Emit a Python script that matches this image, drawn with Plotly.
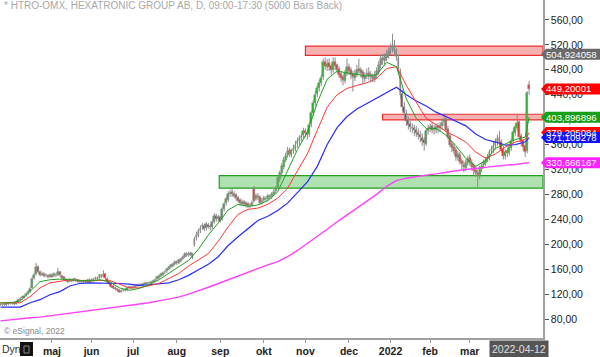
import pandas as pd
import plotly.graph_objects as go

# ---------------- data ----------------
holidays = ["2021-04-02", "2021-04-05", "2021-05-13", "2021-06-25",
            "2021-12-24", "2021-12-31", "2022-01-06"]
month_labels = ["maj", "jun", "jul", "aug", "sep", "okt", "nov", "dec", "2022", "feb", "mar"]
month_starts = ["2021-05", "2021-06", "2021-07", "2021-08", "2021-09", "2021-10",
                "2021-11", "2021-12", "2022-01", "2022-02", "2022-03"]
y_ticks = [80, 120, 160, 200, 240, 280, 320, 360, 400, 440, 480, 520, 560]

opens = [103,104,103,102,105,105,106,105,104,107,
         110,113,114,118,121,124,130,146,152,163,
         156,151,152,150,149,148,150,149,151,151,
         155,149,147,143,142,141,142,142,143,142,
         141,140,139,140,142,140,143,142,145,146,
         146,150,148,152,145,139,136,133,129,128,
         126,124,126,126,127,130,131,131,132,133,
         134,135,135,136,137,137,138,139,141,144,
         146,149,151,155,157,160,164,165,169,171,
         170,173,177,180,185,182,186,184,198,210,
         214,221,227,230,226,231,229,227,236,245,
         241,244,240,257,266,271,280,284,281,279,
         275,271,265,267,266,264,261,263,288,273,
         277,276,267,271,273,272,276,277,281,285,
         292,305,315,324,336,343,351,344,350,353,
         361,365,371,375,381,379,377,394,411,427,
         441,451,459,468,493,485,491,486,479,493,
         487,481,473,468,462,474,485,479,473,467,
         473,481,479,476,466,471,475,471,469,465,
         471,477,487,499,494,499,504,509,514,519,
         511,499,477,441,421,409,399,393,387,387,
         384,379,376,371,367,361,381,386,389,383,
         384,389,387,389,396,401,385,373,361,356,
         351,339,344,333,327,323,331,338,331,325,
         319,315,309,321,327,331,337,339,349,351,
         357,364,371,364,353,341,349,347,355,365,
         379,387,396,373,365,357,349,456]
highs = [106,105,105,106,107,108,107,106,108,112,
         114,117,118,122,126,131,148,154,170,166,
         158,156,155,153,152,153,153,155,154,162,
         157,151,149,146,145,146,145,146,146,144,
         143,142,143,143,144,145,145,146,148,148,
         152,152,158,154,147,141,138,134,132,130,
         128,127,128,129,131,133,133,134,135,136,
         137,137,138,139,139,140,141,143,145,149,
         151,154,156,158,162,165,168,170,174,174,
         176,178,182,187,187,188,188,186,212,220,
         225,230,234,233,236,234,232,238,250,249,
         247,246,259,268,276,285,288,289,285,282,
         278,274,272,271,269,268,266,270,293,281,
         282,278,274,278,277,281,280,284,288,294,
         310,318,330,340,347,356,355,353,360,366,
         371,375,378,387,386,384,396,414,431,446,
         455,464,472,498,500,497,498,490,500,500,
         490,486,478,472,480,498,490,484,478,480,
         488,498,484,480,476,482,484,478,474,478,
         484,494,504,506,506,512,516,522,538,528,
         515,504,482,448,428,416,405,398,394,392,
         390,386,382,378,372,386,392,394,396,392,
         394,394,396,402,410,406,390,378,366,362,
         356,350,348,338,334,336,342,344,336,330,
         326,320,326,330,336,340,345,352,358,364,
         370,376,382,368,358,352,354,360,370,386,
         394,408,398,378,368,362,446,462]
lows = [101,101,101,101,102,103,103,102,103,106,
        108,111,113,116,119,122,129,143,150,154,
        148,149,147,147,145,146,146,147,147,149,
        148,144,142,140,138,139,139,140,140,138,
        138,137,137,138,138,138,140,140,143,143,
        144,146,147,144,138,134,130,128,126,124,
        122,122,124,124,125,128,128,129,130,131,
        132,132,133,134,134,135,136,137,139,142,
        144,147,149,152,154,158,161,163,166,167,
        168,171,175,178,180,180,181,176,196,206,
        211,218,223,221,222,225,222,224,233,236,
        236,235,238,253,262,268,276,276,274,270,
        267,262,262,261,259,258,258,260,266,270,
        271,263,264,268,268,269,272,273,278,282,
        288,300,311,320,332,339,340,339,345,349,
        355,359,365,370,372,368,372,388,406,422,
        436,445,454,464,480,478,478,472,475,480,
        474,468,460,455,458,470,472,465,445,462,
        468,472,468,458,460,465,464,460,460,460,
        466,472,482,488,488,494,498,504,508,502,
        495,472,434,414,402,390,384,380,378,374,
        372,368,364,358,350,358,376,380,378,376,
        378,378,380,384,390,380,368,356,348,344,
        334,334,328,320,316,318,326,326,318,310,
        308,292,304,316,322,326,332,334,344,346,
        352,358,358,348,336,336,340,342,350,362,
        374,382,368,358,350,340,346,440]
closes = [104,102,103,105,104,106,105,104,107,110,
          112,115,117,120,124,128,145,150,164,156,
          150,153,149,150,147,150,148,152,150,156,
          150,146,144,142,140,143,141,144,142,140,
          140,139,141,141,140,143,142,144,146,145,
          150,148,153,146,140,136,132,130,128,126,
          124,125,126,127,129,131,130,132,133,134,
          135,134,136,137,136,138,139,141,143,147,
          149,152,154,156,160,163,166,168,171,170,
          174,176,180,184,182,185,183,178,208,215,
          222,226,231,225,232,228,227,235,246,240,
          243,238,256,265,272,281,283,280,278,274,
          270,266,268,265,263,262,262,266,270,278,
          276,266,270,274,272,277,276,280,284,290,
          306,314,325,335,342,350,345,349,354,360,
          366,370,374,382,378,376,392,410,426,440,
          450,458,467,492,486,490,484,480,492,486,
          480,472,467,463,475,484,478,472,468,474,
          480,478,475,467,470,474,470,468,466,472,
          478,488,498,495,500,505,510,515,518,510,
          500,478,440,420,410,398,392,388,386,383,
          378,375,372,366,362,382,385,388,384,385,
          388,386,390,395,400,384,372,360,355,350,
          340,345,332,328,324,330,337,330,324,318,
          314,310,322,326,332,336,340,348,352,358,
          365,370,363,352,342,348,346,356,366,380,
          388,395,372,364,356,348,442,449]

ma_idx = list(range(0, 266, 5)) + [267]
ma_green = [106,106,109,125,140,143,144,143,142,141,
            143,140,130,126,129,135,143,153,164,174,
            192,215,234,255,264,261,263,270,284,318,
            352,380,427,465,478,475,473,470,472,492,
            485,433,402,386,386,375,358,338,325,334,
            354,361,368,372,404]
ma_red = [106,106,106,116,130,138,140,143,142,141,
          142,142,136,130,130,133,137,145,153,165,
          175,185,205,228,248,256,258,264,274,290,
          318,345,383,420,440,450,455,459,466,482,
          485,455,428,402,392,381,373,364,348,338,
          345,356,364,368,379]
ma_blue = [99,99,99,106,111,119,124,133,137,138,
           138,138,137,136,134,135,136,138,143,150,
           159,168,180,198,212,225,238,245,254,266,
           283,300,325,360,387,405,417,426,435,444,
           452,440,430,422,412,405,398,390,377,368,
           364,359,360,364,371]
ma_magenta = [77,79,80,82,83,85,87,89,91,93,
              95,97,99,102,104,106,109,112,115,120,
              125,131,137,143,149,156,162,167,172,180,
              190,201,213,224,236,247,258,268,280,293,
              302,306,309,311,313,316,318,320,322,324,
              325,327,328,330,331]

zones = [  # (start bar, low, high, fill, line)
    (154, 503, 518, "rgba(247,150,150,0.75)", "#e83030"),
    (193, 399.5, 408.6, "rgba(247,150,150,0.75)", "#e83030"),
    (110.5, 290, 310, "rgba(150,215,150,0.75)", "#20a020"),
]
right_labels = [  # (value, text, colour)
    (504.924058, "504,924058", "#6a6a6a"),
    (449.20001, "449,20001", "#ff0000"),
    (403.896896, "403,896896", "#15a015"),
    (379.205084, "379,205084", "#ff0000"),
    (371.109278, "371,109278", "#1010ff"),
    (330.666167, "330,666167", "#ff20ff"),
]
last_date_text = "2022-04-12"

# ---------------- figure ----------------
FONT = "Liberation Sans, Arial, sans-serif"
n = len(closes)
bd = pd.bdate_range("2021-03-24", "2022-04-12")
bd = [d for d in bd if d.strftime("%Y-%m-%d") not in holidays]
dates = bd[-n:]
xs = list(range(n))
tickvals = []
for ms in month_starts:
    for i, d in enumerate(dates):
        if d.strftime("%Y-%m") == ms:
            tickvals.append(i)
            break

YMIN, YMAX = 49.5, 592.0
XMIN, XMAX = -0.25, 274.0
W, H = 600, 357
ML, MR, MT, MB = 0, 57, 0, 19
PW, PH = W - ML - MR, H - MT - MB

fig = go.Figure()

# wicks (gray high-low segments)
wx, wy = [], []
for i in xs:
    wx += [i, i, None]
    wy += [lows[i], highs[i], None]
fig.add_trace(go.Scatter(x=wx, y=wy, mode="lines", line=dict(color="#8c8c8c", width=1),
                         hoverinfo="skip", showlegend=False))
# bodies
body_col = ["#10c010" if c >= o else "#ff1010" for o, c in zip(opens, closes)]
fig.add_trace(go.Bar(x=xs, base=opens, y=[c - o if c != o else 0.8 for o, c in zip(opens, closes)],
                     width=0.95, marker=dict(color=body_col, line=dict(color="#8c8c8c", width=0.5)),
                     hoverinfo="skip", showlegend=False))

for vals, col, w in [(ma_magenta, "#ff40ff", 1.4), (ma_blue, "#2a2aff", 1.2),
                     (ma_red, "#ff3535", 1.0), (ma_green, "#20a020", 1.0)]:
    fig.add_trace(go.Scatter(x=ma_idx, y=vals, mode="lines",
                             line=dict(color=col, width=w),
                             hoverinfo="skip", showlegend=False))

shapes = []
for x0, lo, hi, fill, line in zones:
    shapes.append(dict(type="rect", xref="x", yref="y", x0=x0, x1=XMAX,
                       y0=lo, y1=hi, fillcolor=fill,
                       line=dict(color=line, width=1.2), layer="below"))

def py(v):
    return (v - YMIN) / (YMAX - YMIN)

px_x = lambda p: p / PW
half = 5.5 / PH
annotations = []
for v, txt, col in right_labels:
    yc = py(v)
    path = (f"M {px_x(541)},{yc} L {px_x(546)},{yc+half} L {px_x(600)},{yc+half} "
            f"L {px_x(600)},{yc-half} L {px_x(546)},{yc-half} Z")
    shapes.append(dict(type="path", xref="paper", yref="paper", path=path,
                       fillcolor=col, line=dict(width=0), layer="above"))
    annotations.append(dict(xref="paper", yref="paper", x=px_x(546), y=yc,
                            xanchor="left", yanchor="middle", text=txt, showarrow=False,
                            borderpad=0, xshift=-1,
                            font=dict(family=FONT, size=9.6, color="white")))

# Dyn icon
shapes.append(dict(type="rect", xref="paper", yref="paper",
                   x0=px_x(20), x1=px_x(33), y0=-(356 - PH) / PH, y1=-(342 - PH) / PH,
                   fillcolor="#111111", line=dict(width=0)))
shapes.append(dict(type="rect", xref="paper", yref="paper",
                   x0=px_x(24), x1=px_x(29), y0=-(353 - PH) / PH, y1=-(346 - PH) / PH,
                   fillcolor="#111111", line=dict(color="#888888", width=1)))

annotations += [
    dict(xref="paper", yref="paper", x=px_x(2), y=1 - 6 / PH, xanchor="left", yanchor="middle",
         text="* HTRO-OMX, HEXATRONIC GROUP AB, D, 09:00-17:30 (5000 Bars Back)",
         showarrow=False, font=dict(family=FONT, size=10, color="#a8a8a8")),
    dict(xref="paper", yref="paper", x=px_x(2), y=(PH - 331) / PH, xanchor="left", yanchor="middle",
         text="© eSignal, 2022", showarrow=False, font=dict(family=FONT, size=8.5, color="#888888")),
    dict(xref="paper", yref="paper", x=px_x(0), y=-(349 - PH) / PH, xanchor="left", yanchor="middle",
         text="Dyn", showarrow=False, font=dict(family=FONT, size=10.5, color="#333333")),
    dict(xref="paper", yref="paper", x=px_x(519), y=-(349 - PH) / PH, xanchor="center",
         yanchor="middle", text=last_date_text, showarrow=False, bgcolor="#555555",
         borderpad=2, font=dict(family=FONT, size=10.5, color="#e0e0e0")),
]

fig.update_layout(
    template="none", width=W, height=H,
    margin=dict(l=ML, r=MR, t=MT, b=MB, pad=0),
    paper_bgcolor="white", plot_bgcolor="white", barmode="overlay", bargap=0,
    shapes=shapes, annotations=annotations, showlegend=False,
    xaxis=dict(range=[XMIN, XMAX],
               tickvals=tickvals, ticktext=[f"<b>{m}</b>" for m in month_labels],
               ticks="outside", ticklen=3, tickcolor="#999999", showgrid=False,
               zeroline=False, showline=True, linecolor="#a0a0a0", linewidth=1.5,
               tickfont=dict(family=FONT, size=10.5, color="#222222"), automargin=False,
               fixedrange=True),
    yaxis=dict(range=[YMIN, YMAX], side="right", tickvals=y_ticks,
               ticktext=[f"{v},00" for v in y_ticks], ticks="outside", ticklen=4,
               tickcolor="#555555", showgrid=False, zeroline=False, showline=True,
               linecolor="#a0a0a0", linewidth=1.5,
               tickfont=dict(family=FONT, size=10.5, color="#222222"), automargin=False,
               fixedrange=True),
)
fig.write_html("out.html", config={"displayModeBar": False},
               post_script="document.body.style.margin='0';document.body.style.padding='0';"
                           "document.documentElement.style.overflow='hidden';")
